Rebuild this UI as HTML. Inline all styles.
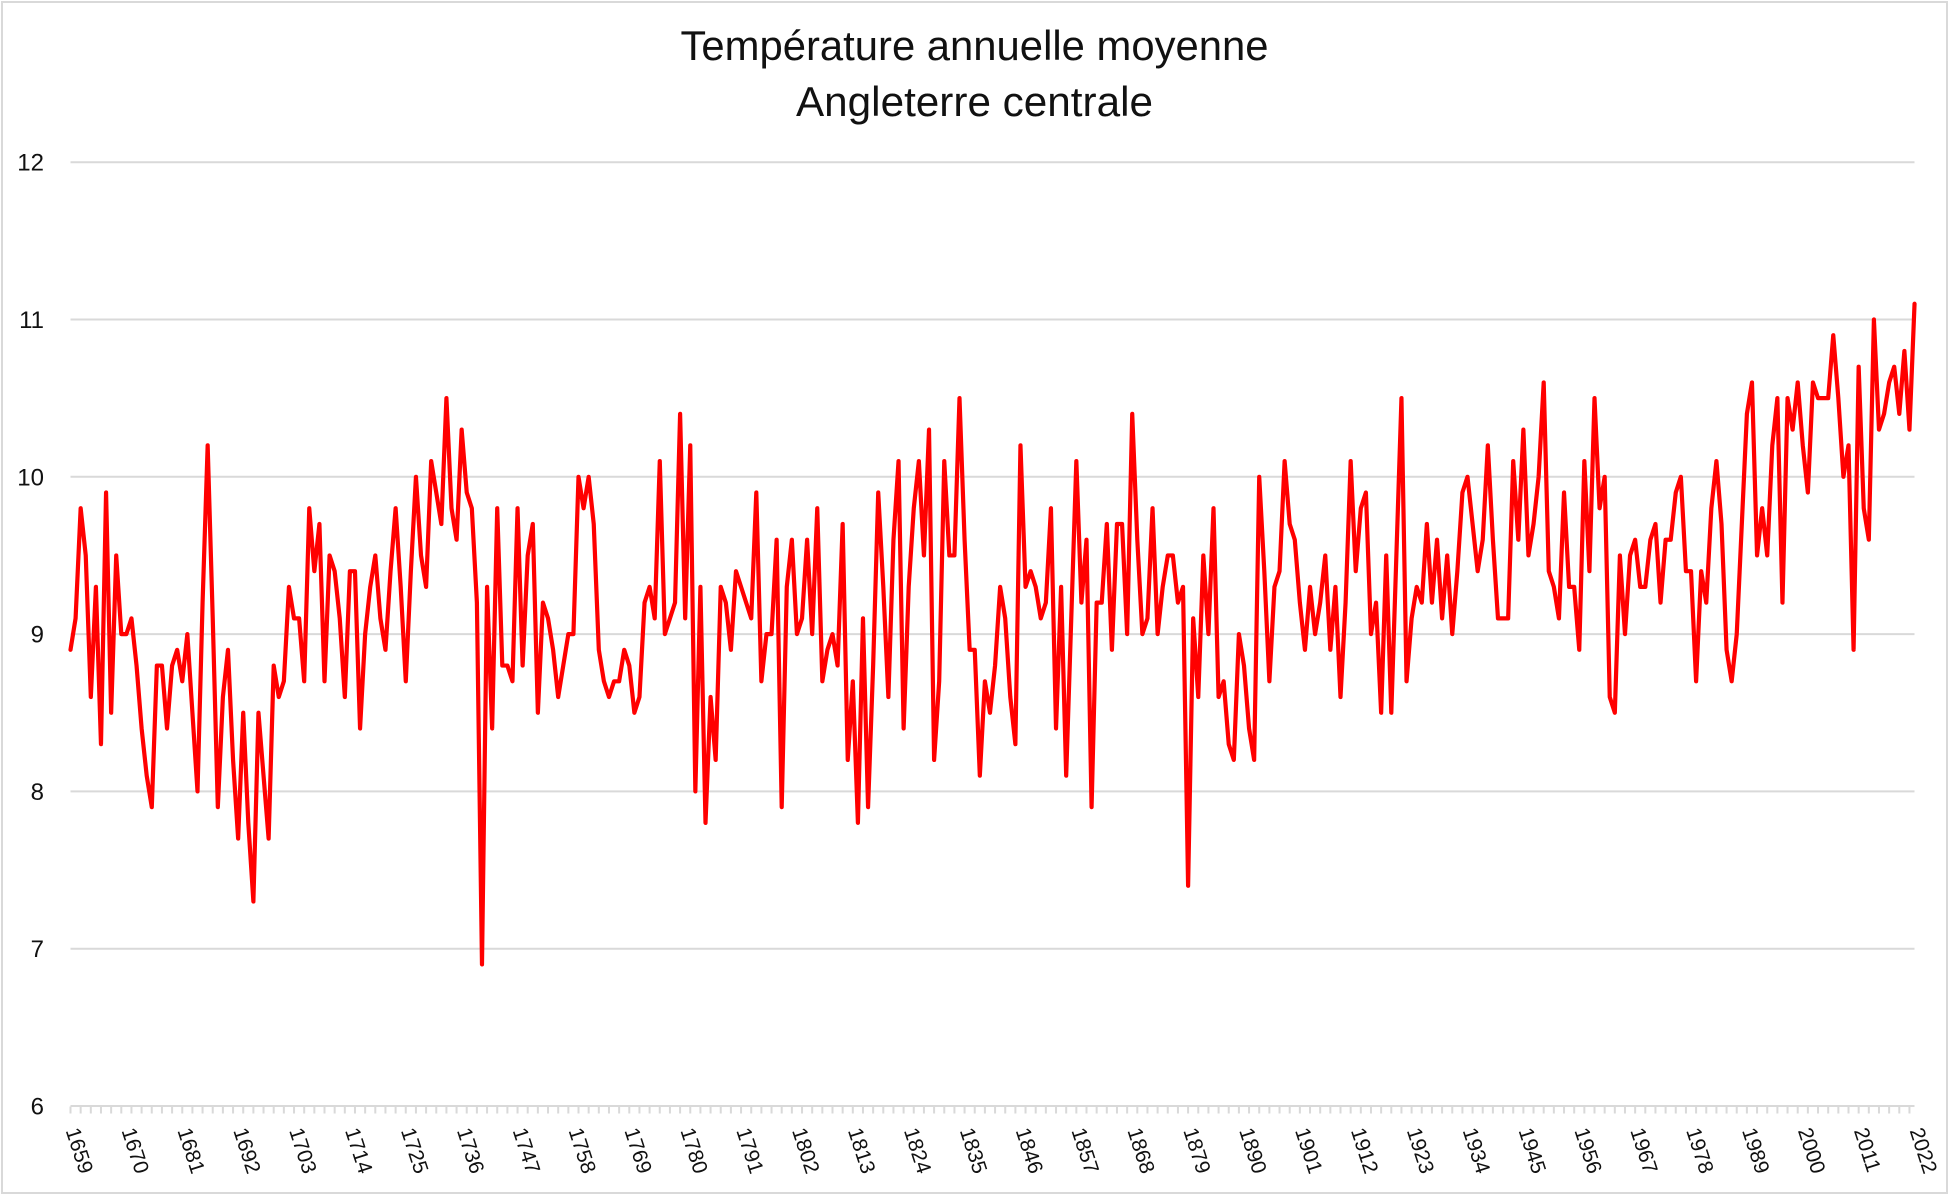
<!DOCTYPE html>
<html>
<head>
<meta charset="utf-8">
<style>
html,body{margin:0;padding:0;background:#fff;}
svg{display:block;}
text{font-family:"Liberation Sans", Arial, sans-serif; fill:#111;}
</style>
</head>
<body>
<svg width="1949" height="1195" viewBox="0 0 1949 1195" xmlns="http://www.w3.org/2000/svg">
<rect x="0" y="0" width="1949" height="1195" fill="#fff"/>
<rect x="2" y="2" width="1945" height="1191" fill="none" stroke="#d9d9d9" stroke-width="2"/>

<!-- Title -->
<text x="974.5" y="60" font-size="42" text-anchor="middle" textLength="588" lengthAdjust="spacingAndGlyphs">Température annuelle moyenne</text>
<text x="974.5" y="116" font-size="42" text-anchor="middle" textLength="357" lengthAdjust="spacingAndGlyphs">Angleterre centrale</text>

<!-- Gridlines -->
<g stroke="#d9d9d9" stroke-width="2">
<line x1="70.5" y1="162.2" x2="1914.5" y2="162.2"/>
<line x1="70.5" y1="319.5" x2="1914.5" y2="319.5"/>
<line x1="70.5" y1="476.8" x2="1914.5" y2="476.8"/>
<line x1="70.5" y1="634.1" x2="1914.5" y2="634.1"/>
<line x1="70.5" y1="791.4" x2="1914.5" y2="791.4"/>
<line x1="70.5" y1="948.7" x2="1914.5" y2="948.7"/>
<line x1="70.5" y1="1106" x2="1914.5" y2="1106"/>
</g>
<!-- ticks -->
<line x1="69.5" y1="1110" x2="1916" y2="1110" stroke="#d9d9d9" stroke-width="7" stroke-dasharray="2 8.16"/>

<!-- Y labels -->
<g font-size="24" text-anchor="end">
<text x="44" y="170.7">12</text>
<text x="44" y="328">11</text>
<text x="44" y="485.3">10</text>
<text x="44" y="642.6">9</text>
<text x="44" y="799.9">8</text>
<text x="44" y="957.2">7</text>
<text x="44" y="1114.5">6</text>
</g>

<!-- X labels -->
<g font-size="21">
<text transform="translate(65.5,1130.5) rotate(72)">1659</text>
<text transform="translate(121.4,1130.5) rotate(72)">1670</text>
<text transform="translate(177.3,1130.5) rotate(72)">1681</text>
<text transform="translate(233.1,1130.5) rotate(72)">1692</text>
<text transform="translate(289.0,1130.5) rotate(72)">1703</text>
<text transform="translate(344.9,1130.5) rotate(72)">1714</text>
<text transform="translate(400.8,1130.5) rotate(72)">1725</text>
<text transform="translate(456.7,1130.5) rotate(72)">1736</text>
<text transform="translate(512.5,1130.5) rotate(72)">1747</text>
<text transform="translate(568.4,1130.5) rotate(72)">1758</text>
<text transform="translate(624.3,1130.5) rotate(72)">1769</text>
<text transform="translate(680.2,1130.5) rotate(72)">1780</text>
<text transform="translate(736.1,1130.5) rotate(72)">1791</text>
<text transform="translate(791.9,1130.5) rotate(72)">1802</text>
<text transform="translate(847.8,1130.5) rotate(72)">1813</text>
<text transform="translate(903.7,1130.5) rotate(72)">1824</text>
<text transform="translate(959.6,1130.5) rotate(72)">1835</text>
<text transform="translate(1015.5,1130.5) rotate(72)">1846</text>
<text transform="translate(1071.3,1130.5) rotate(72)">1857</text>
<text transform="translate(1127.2,1130.5) rotate(72)">1868</text>
<text transform="translate(1183.1,1130.5) rotate(72)">1879</text>
<text transform="translate(1239.0,1130.5) rotate(72)">1890</text>
<text transform="translate(1294.9,1130.5) rotate(72)">1901</text>
<text transform="translate(1350.7,1130.5) rotate(72)">1912</text>
<text transform="translate(1406.6,1130.5) rotate(72)">1923</text>
<text transform="translate(1462.5,1130.5) rotate(72)">1934</text>
<text transform="translate(1518.4,1130.5) rotate(72)">1945</text>
<text transform="translate(1574.3,1130.5) rotate(72)">1956</text>
<text transform="translate(1630.1,1130.5) rotate(72)">1967</text>
<text transform="translate(1686.0,1130.5) rotate(72)">1978</text>
<text transform="translate(1741.9,1130.5) rotate(72)">1989</text>
<text transform="translate(1797.8,1130.5) rotate(72)">2000</text>
<text transform="translate(1853.7,1130.5) rotate(72)">2011</text>
<text transform="translate(1909.5,1130.5) rotate(72)">2022</text>
</g>

<!-- Data line -->
<polyline transform="matrix(5.08 0 0 -157.3 70.5 2049.8)" vector-effect="non-scaling-stroke" fill="none" stroke="#ff0000" stroke-width="4.2" stroke-linejoin="round" stroke-linecap="round" points="
0,8.9 1,9.1 2,9.8 3,9.5 4,8.6 5,9.3 6,8.3 7,9.9 8,8.5 9,9.5
10,9.0 11,9.0 12,9.1 13,8.8 14,8.4 15,8.1 16,7.9 17,8.8 18,8.8 19,8.4
20,8.8 21,8.9 22,8.7 23,9.0 24,8.5 25,8.0 26,9.2 27,10.2 28,9.1 29,7.9
30,8.6 31,8.9 32,8.2 33,7.7 34,8.5 35,7.8 36,7.3 37,8.5 38,8.1 39,7.7
40,8.8 41,8.6 42,8.7 43,9.3 44,9.1 45,9.1 46,8.7 47,9.8 48,9.4 49,9.7
50,8.7 51,9.5 52,9.4 53,9.1 54,8.6 55,9.4 56,9.4 57,8.4 58,9.0 59,9.3
60,9.5 61,9.1 62,8.9 63,9.4 64,9.8 65,9.3 66,8.7 67,9.4 68,10.0 69,9.5
70,9.3 71,10.1 72,9.9 73,9.7 74,10.5 75,9.8 76,9.6 77,10.3 78,9.9 79,9.8
80,9.2 81,6.9 82,9.3 83,8.4 84,9.8 85,8.8 86,8.8 87,8.7 88,9.8 89,8.8
90,9.5 91,9.7 92,8.5 93,9.2 94,9.1 95,8.9 96,8.6 97,8.8 98,9.0 99,9.0
100,10.0 101,9.8 102,10.0 103,9.7 104,8.9 105,8.7 106,8.6 107,8.7 108,8.7 109,8.9
110,8.8 111,8.5 112,8.6 113,9.2 114,9.3 115,9.1 116,10.1 117,9.0 118,9.1 119,9.2
120,10.4 121,9.1 122,10.2 123,8.0 124,9.3 125,7.8 126,8.6 127,8.2 128,9.3 129,9.2
130,8.9 131,9.4 132,9.3 133,9.2 134,9.1 135,9.9 136,8.7 137,9.0 138,9.0 139,9.6
140,7.9 141,9.3 142,9.6 143,9.0 144,9.1 145,9.6 146,9.0 147,9.8 148,8.7 149,8.9
150,9.0 151,8.8 152,9.7 153,8.2 154,8.7 155,7.8 156,9.1 157,7.9 158,8.8 159,9.9
160,9.3 161,8.6 162,9.6 163,10.1 164,8.4 165,9.3 166,9.8 167,10.1 168,9.5 169,10.3
170,8.2 171,8.7 172,10.1 173,9.5 174,9.5 175,10.5 176,9.6 177,8.9 178,8.9 179,8.1
180,8.7 181,8.5 182,8.8 183,9.3 184,9.1 185,8.6 186,8.3 187,10.2 188,9.3 189,9.4
190,9.3 191,9.1 192,9.2 193,9.8 194,8.4 195,9.3 196,8.1 197,9.1 198,10.1 199,9.2
200,9.6 201,7.9 202,9.2 203,9.2 204,9.7 205,8.9 206,9.7 207,9.7 208,9.0 209,10.4
210,9.6 211,9.0 212,9.1 213,9.8 214,9.0 215,9.3 216,9.5 217,9.5 218,9.2 219,9.3
220,7.4 221,9.1 222,8.6 223,9.5 224,9.0 225,9.8 226,8.6 227,8.7 228,8.3 229,8.2
230,9.0 231,8.8 232,8.4 233,8.2 234,10.0 235,9.4 236,8.7 237,9.3 238,9.4 239,10.1
240,9.7 241,9.6 242,9.2 243,8.9 244,9.3 245,9.0 246,9.2 247,9.5 248,8.9 249,9.3
250,8.6 251,9.2 252,10.1 253,9.4 254,9.8 255,9.9 256,9.0 257,9.2 258,8.5 259,9.5
260,8.5 261,9.5 262,10.5 263,8.7 264,9.1 265,9.3 266,9.2 267,9.7 268,9.2 269,9.6
270,9.1 271,9.5 272,9.0 273,9.4 274,9.9 275,10.0 276,9.7 277,9.4 278,9.6 279,10.2
280,9.6 281,9.1 282,9.1 283,9.1 284,10.1 285,9.6 286,10.3 287,9.5 288,9.7 289,10.0
290,10.6 291,9.4 292,9.3 293,9.1 294,9.9 295,9.3 296,9.3 297,8.9 298,10.1 299,9.4
300,10.5 301,9.8 302,10.0 303,8.6 304,8.5 305,9.5 306,9.0 307,9.5 308,9.6 309,9.3
310,9.3 311,9.6 312,9.7 313,9.2 314,9.6 315,9.6 316,9.9 317,10.0 318,9.4 319,9.4
320,8.7 321,9.4 322,9.2 323,9.8 324,10.1 325,9.7 326,8.9 327,8.7 328,9.0 329,9.7
330,10.4 331,10.6 332,9.5 333,9.8 334,9.5 335,10.2 336,10.5 337,9.2 338,10.5 339,10.3
340,10.6 341,10.2 342,9.9 343,10.6 344,10.5 345,10.5 346,10.5 347,10.9 348,10.5 349,10.0
350,10.2 351,8.9 352,10.7 353,9.8 354,9.6 355,11.0 356,10.3 357,10.4 358,10.6 359,10.7
360,10.4 361,10.8 362,10.3 363,11.1"/>
</svg>
</body>
</html>
